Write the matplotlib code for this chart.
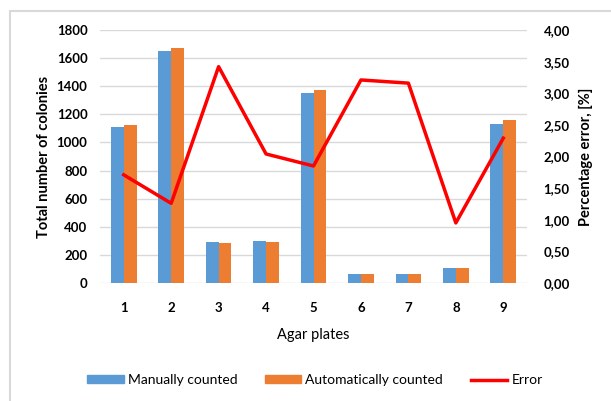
import matplotlib
matplotlib.use("Agg")
import matplotlib.pyplot as plt
from matplotlib.patches import Rectangle
from matplotlib.lines import Line2D
from matplotlib.patches import Patch
import numpy as np

plates = ["1", "2", "3", "4", "5", "6", "7", "8", "9"]
manual = [1110, 1650, 290, 297, 1350, 64, 64, 104, 1131]
automatic = [1124, 1670, 282, 290, 1372, 64, 64, 104, 1157]
error = [1.71, 1.26, 3.42, 2.04, 1.85, 3.21, 3.16, 0.95, 2.29]
left_ticks = [0, 200, 400, 600, 800, 1000, 1200, 1400, 1600, 1800]
right_ticks = [0.0, 0.5, 1.0, 1.5, 2.0, 2.5, 3.0, 3.5, 4.0]

plt.rcParams['font.family'] = ['Lato', 'DejaVu Sans']

fig = plt.figure(figsize=(6.11, 4.01), dpi=100)
fig.patches.append(Rectangle((10/611, -0.05), 1.1, 1 - 11/401 + 0.05,
                             transform=fig.transFigure, fill=False,
                             edgecolor='#d9d9d9', linewidth=1.5))

ax = fig.add_axes([100/611, 1 - 283/401, 427/611, 253/401])
x = np.arange(len(plates))
w = 0.27
ax.bar(x - w/2, manual, w, color='#5B9BD5', zorder=2)
ax.bar(x + w/2, automatic, w, color='#ED7D31', zorder=2)
ax.set_xlim(-0.5, len(plates) - 0.5)
ax.set_ylim(0, 1800)
ax.set_yticks(left_ticks)
ax.set_yticklabels([str(t) for t in left_ticks], fontsize=9.5, fontweight='bold')
ax.set_xticks(x)
ax.set_xticklabels(plates, fontsize=9.5, fontweight='bold')
ax.grid(axis='y', color='#d9d9d9', linewidth=1, zorder=0)
ax.tick_params(length=0, pad=9)
ax.tick_params(axis='x', pad=14)
for s in ax.spines.values():
    s.set_visible(False)
ax.set_ylabel("Total number of colonies", fontsize=10.5, fontweight='bold', labelpad=4)
ax.set_xlabel("Agar plates", fontsize=10.5, labelpad=10)

ax2 = ax.twinx()
ax2.plot(x, error, color='#FF0000', linewidth=2.5, zorder=3)
ax2.set_ylim(0, 4)
ax2.set_yticks(right_ticks)
ax2.set_yticklabels([f"{t:.2f}".replace('.', ',') for t in right_ticks], fontsize=9.5, fontweight='bold')
ax2.tick_params(length=0, pad=12)
for s in ax2.spines.values():
    s.set_visible(False)
ax2.set_ylabel("Percentage error, [%]", fontsize=10.5, fontweight='bold', labelpad=6)

handles = [Patch(color='#5B9BD5', label='Manually counted'),
           Patch(color='#ED7D31', label='Automatically counted'),
           Line2D([0], [0], color='#FF0000', linewidth=2.5, label='Error')]
fig.legend(handles=handles, loc='center', bbox_to_anchor=(315/611, 1 - 380/401),
           ncol=3, frameon=False, fontsize=10, handlelength=2.6, handleheight=0.5,
           handletextpad=0.3, columnspacing=2.0)

fig.savefig("out.png", dpi=100)
